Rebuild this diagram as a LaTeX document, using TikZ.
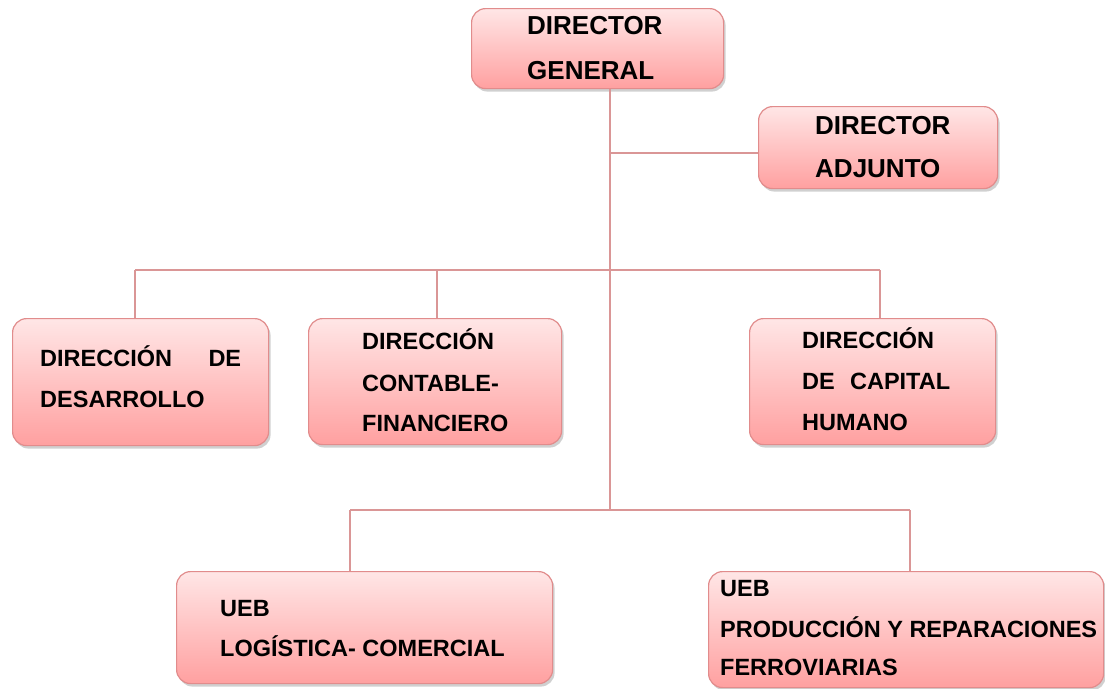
\documentclass[tikz,border=0pt]{standalone}
\usepackage{fontspec}
\setmainfont{Liberation Sans}
\usetikzlibrary{shadows}
\definecolor{boxtop}{RGB}{255,230,230}
\definecolor{boxbot}{RGB}{255,160,160}
\definecolor{boxline}{RGB}{225,140,140}
\definecolor{connc}{RGB}{218,150,150}
\begin{document}
\begin{tikzpicture}[x=1pt,y=-1pt,
  orgbox/.style={draw=boxline, line width=1.2pt, rounded corners=14pt,
    top color=boxtop, bottom color=boxbot,
    drop shadow={opacity=0.3, shadow xshift=2pt, shadow yshift=-3pt, fill=black!60},
    inner sep=0pt, anchor=north west},
  big/.style={font=\bfseries\fontsize{26}{30}\selectfont, inner sep=0pt, anchor=base west},
  lbl/.style={font=\bfseries\fontsize{23.5}{28}\selectfont, inner sep=0pt, anchor=base west},
  conn/.style={draw=connc, line width=1.8pt}]
\useasboundingbox (0,0) rectangle (1105,688);
\fill[white] (0,0) rectangle (1105,688);

% connectors
\coordinate (j1) at (610,153);
\coordinate (j2) at (610,270);
\coordinate (j3) at (610,510);
\coordinate (b1) at (135,270);
\coordinate (b2) at (437,270);
\coordinate (b3) at (880,270);
\coordinate (c1) at (350,510);
\coordinate (c2) at (910,510);

% boxes
\node[orgbox, minimum width=252pt, minimum height=80pt] (dg) at (471,8) {};
\node[orgbox, minimum width=239pt, minimum height=82pt] (da) at (758,106) {};
\node[orgbox, minimum width=256pt, minimum height=127pt] (dd) at (12,318) {};
\node[orgbox, minimum width=253pt, minimum height=126pt] (dcf) at (308,318) {};
\node[orgbox, minimum width=246pt, minimum height=126pt] (dch) at (749,318) {};
\node[orgbox, minimum width=376pt, minimum height=112pt] (lc) at (176,571) {};
\node[orgbox, minimum width=395pt, minimum height=116pt] (pr) at (708,571) {};

\draw[conn] (dg.south -| j1) -- (j3);
\draw[conn] (j1) -- (j1 -| da.west);
\draw[conn] (b1) -- (b3);
\draw[conn] (b1) -- (b1 |- dd.north);
\draw[conn] (b2) -- (b2 |- dcf.north);
\draw[conn] (b3) -- (b3 |- dch.north);
\draw[conn] (c1) -- (c2);
\draw[conn] (c1) -- (c1 |- lc.north);
\draw[conn] (c2) -- (c2 |- pr.north);

% texts
\node[big] (dgt1) at (527,34) {DIRECTOR};
\node[big] (dgt2) at (527,79) {GENERAL};
\node[big] (dat1) at (815,134) {DIRECTOR};
\node[big] (dat2) at (815,177) {ADJUNTO};
\node[lbl] (ddt1) at (40,366) {\makebox[201pt][l]{DIRECCIÓN\hfill DE}};
\node[lbl] (ddt2) at (40,407) {DESARROLLO};
\node[lbl] (dcft1) at (362,349) {DIRECCIÓN};
\node[lbl] (dcft2) at (362,391) {CONTABLE-};
\node[lbl] (dcft3) at (362,431) {FINANCIERO};
\node[lbl] (dcht1) at (802,348) {DIRECCIÓN};
\node[lbl] (dcht2) at (802,389) {\makebox[148pt][l]{DE\hfill CAPITAL}};
\node[lbl] (dcht3) at (802,430) {HUMANO};
\node[lbl] (lct1) at (220,616) {UEB};
\node[lbl] (lct2) at (220,656) {LOGÍSTICA- COMERCIAL};
\node[lbl] (prt1) at (720,596) {UEB};
\node[lbl] (prt2) at (720,637) {PRODUCCIÓN Y REPARACIONES};
\node[lbl] (prt3) at (720,675) {FERROVIARIAS};
\end{tikzpicture}
\end{document}
